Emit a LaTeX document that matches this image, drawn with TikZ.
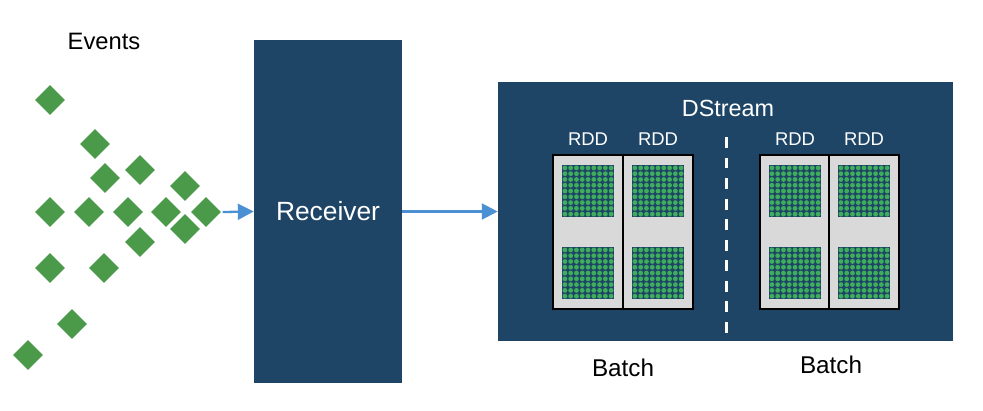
\documentclass[tikz,border=0pt]{standalone}
\usepackage{fontspec}
\setmainfont{Liberation Sans}
\usetikzlibrary{shapes.geometric,arrows.meta,positioning}
\definecolor{navy}{HTML}{1F4566}
\definecolor{eventgreen}{HTML}{4A9A4A}
\definecolor{dotgreen}{HTML}{3FAE5C}
\definecolor{flowblue}{HTML}{4A90D2}
\definecolor{rddgray}{HTML}{D9D9D9}

\begin{document}
\begin{tikzpicture}[
        x=0.02cm, y=-0.02cm,
        event/.style={diamond, fill=eventgreen, draw=white, line width=0.6pt, inner sep=0pt, minimum size=0.64cm},
        block/.style={rectangle, fill=navy, inner sep=0pt, text=white},
        rddbox/.style={rectangle, draw=black, line width=1pt, fill=rddgray, inner sep=0pt, minimum width=1.4cm, minimum height=3.08cm},
        rddlabel/.style={text=white, inner sep=0pt, font=\fontsize{10.5}{12}\selectfont},
        caption/.style={inner sep=0pt, font=\fontsize{13.8}{16}\selectfont},
        flow/.style={-{Triangle[length=9pt,width=9pt]}, flowblue, line width=1.3pt},
    ]
        \useasboundingbox (0,0) rectangle (983,410);

        % incoming events
        \node[caption, font=\fontsize{13.5}{16}\selectfont] (events) at (104,41) {Events};
        \foreach \px/\py [count=\n] in {50/100, 95/144, 105/178, 140/170, 185/186,
                50/212, 89/212, 128/212, 166/212, 206/212, 185/229, 140/242,
                50/268, 104/268, 72/324, 28/355}
            \node[event] (e\n) at (\px,\py) {};

        % receiver and dstream
        \node[block, minimum width=2.96cm, minimum height=6.86cm, font=\fontsize{15}{18}\selectfont] (recv) at (328,211.5) {Receiver};
        \node[block, minimum width=9.1cm, minimum height=5.18cm] (dstream) at (725.5,211.5) {};
        \node[rddlabel, font=\fontsize{13.3}{16}\selectfont] (dslabel) at (728,108) {DStream};

        \draw[flow] (e10.east) -- (recv.west);
        \draw[flow] (recv.east) -- (dstream.west);

        % batches of rdds
        \node[rddbox] (b1l) at (588,232) {};
        \node[rddbox] (b1r) at (658,232) {};
        \node[rddbox] (b2l) at (795,232) {};
        \node[rddbox] (b2r) at (864,232) {};
        \foreach \b in {b1l,b1r,b2l,b2r}
            \node[rddlabel, above=5pt of \b] (\b-lab) {RDD};

        \foreach \cx in {588,658,795,864}
            \foreach \sy in {165,247} {
                \fill[navy] (\cx-26,\sy) rectangle ++(52,52);
                \foreach \i in {0,...,8}
                    \foreach \j in {0,...,8}
                        \fill[dotgreen] ({\cx-26+2.9+\i*5.78},{\sy+2.9+\j*5.78}) circle (0.048cm);
            }

        \coordinate (cut-top) at (726,137);
        \coordinate (cut-bot) at (726,333);
        \draw[white, line width=1.7pt, dash pattern=on 6.2pt off 5.5pt] (cut-top) -- (cut-bot);

        \node[caption] (batch1) at (623,368) {Batch};
        \node[caption] (batch2) at (831,365) {Batch};
\end{tikzpicture}
\end{document}
